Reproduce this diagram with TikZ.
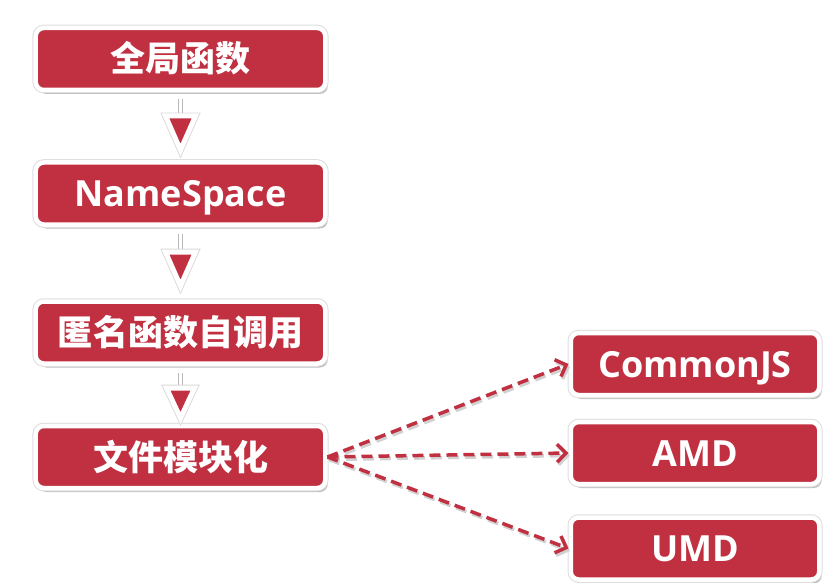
\documentclass[tikz,border=0pt]{standalone}
\usepackage{fontspec}
\setmainfont{Open Sans}
\newfontfamily\cjk{Noto Sans CJK SC}
\usetikzlibrary{arrows.meta,shadows}
\definecolor{boxred}{RGB}{192,48,64}

\begin{document}
\begin{tikzpicture}[x=1bp,y=-1bp,
  stagebox/.style={draw=white, line width=4.5bp, fill=boxred, rounded corners=8bp,
    text=white, font=\fontsize{36bp}{40bp}\selectfont\bfseries,
    inner sep=0pt, text height=26bp, text depth=0pt, minimum height=62bp,
    drop shadow={shadow xshift=2.5bp, shadow yshift=-4bp, opacity=.25, fill=black},
    preaction={draw=black!13, line width=6.5bp}},
  leftbox/.style={stagebox, minimum width=289.5bp},
  rightbox/.style={stagebox, minimum width=248.5bp},
  cn/.style={font=\fontsize{35bp}{40bp}\selectfont\cjk\bfseries},
  shaft/.style={draw=black!28, line width=0.8bp, double=white, double distance=3.2bp,
    shorten <=7bp},
  downtip/.style={fill=boxred, draw=white, line width=5bp, line join=miter,
    drop shadow={shadow xshift=1.5bp, shadow yshift=-2.5bp, opacity=.22, fill=black},
    preaction={draw=black!15, line width=6.8bp, line join=miter}},
  dashlink/.style={draw=boxred, line width=3.5bp, dash pattern=on 11bp off 6bp,
    -{Straight Barb[length=9bp, width=18bp]}},
  dashshade/.style={dashlink, draw=black!18,
    transform canvas={xshift=1.5bp, yshift=-2.5bp}}
]
\fill[white] (0,0) rectangle (830,583);
\useasboundingbox (0,0) rectangle (830,583);

% stages of module organisation
\node[leftbox, cn] (b1) at (180.5,59)    {全局函数};
\node[leftbox]     (b2) at (180.5,193.5) {NameSpace};
\node[leftbox, cn] (b3) at (180.5,332.5) {匿名函数自调用};
\node[leftbox, cn] (b4) at (180.5,457)   {文件模块化};

% module specifications
\node[rightbox] (cjs) at (695,364)   {CommonJS};
\node[rightbox] (amd) at (695,453)   {AMD};
\node[rightbox] (umd) at (695,548.5) {UMD};

% downward steps: hollow shaft ending in a red triangle
\coordinate (t1) at (180.5,116);
\coordinate (t2) at (180.5,252);
\coordinate (t3) at (180.5,388);
\draw[shaft] (b1.south) -- (t1);
\draw[shaft] (b2.south) -- (t2);
\draw[shaft] (b3.south) -- (t3);
\draw[downtip] (t1) ++(-15,0) -- ++(30,0) -- ++(-15,34) -- cycle;
\draw[downtip] (t2) ++(-15,0) -- ++(30,0) -- ++(-15,34) -- cycle;
\draw[downtip] (t3) ++(-14,0) -- ++(28,0) -- ++(-14,30) -- cycle;

% dashed links to the specifications
\draw[dashshade] (b4.east) -- (cjs.west);
\draw[dashshade] (b4.east) -- (amd.west);
\draw[dashshade] (b4.east) -- (umd.west);
\draw[dashlink] (b4.east) -- (cjs.west);
\draw[dashlink] (b4.east) -- (amd.west);
\draw[dashlink] (b4.east) -- (umd.west);
\end{tikzpicture}
\end{document}
